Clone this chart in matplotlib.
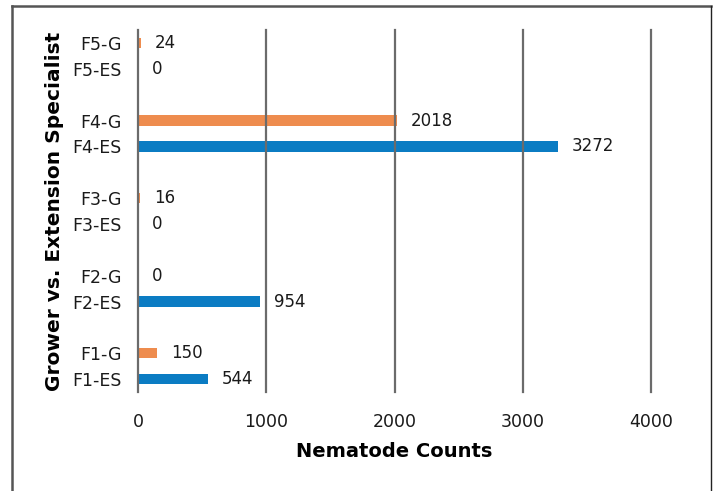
import matplotlib.pyplot as plt
from matplotlib.lines import Line2D

# Nematode counts per farm, extension specialist (ES) vs grower (G)
farms = ['F1', 'F2', 'F3', 'F4', 'F5']
es_counts = [544, 954, 0, 3272, 0]
g_counts = [150, 0, 16, 2018, 24]
x_ticks = [0, 1000, 2000, 3000, 4000]

orange = '#ee8c4e'
blue = '#0b7cc3'
grid_col = '#6b6b6b'

fig = plt.figure(figsize=(7.15, 4.91), dpi=100)
ax = fig.add_axes([0.193, 0.2016, 0.7175, 0.7373])

labels, values, colors, pos = [], [], [], []
for i, f in enumerate(farms):
    for j, (tag, vals, c) in enumerate([('ES', es_counts, blue), ('G', g_counts, orange)]):
        labels.append(f'{f}-{tag}')
        values.append(vals[i])
        colors.append(c)
        pos.append(3 * i + j)

ax.barh(pos, values, height=0.4, color=colors, zorder=1)
for p, v in zip(pos, values):
    ax.annotate(str(v), (v, p), xytext=(10, 0), textcoords='offset points',
                va='center', ha='left', fontsize=12, color='#1a1a1a')

# vertical gridlines, drawn over the bars and not clipped at the edges
for t in x_ticks:
    ax.axvline(t, color=grid_col, linewidth=1.6, zorder=2, clip_on=False)

ax.set_xlim(0, 4000)
ax.set_ylim(-0.5, 13.5)
ax.set_xticks(x_ticks)
ax.set_yticks(pos)
ax.set_yticklabels(labels)
ax.tick_params(axis='x', length=0, pad=15, labelsize=12.5, labelcolor='#1a1a1a')
ax.tick_params(axis='y', length=0, pad=12, labelsize=12.5, labelcolor='#1a1a1a')
for s in ax.spines.values():
    s.set_visible(False)

ax.set_xlabel('Nematode Counts', fontsize=14, fontweight='bold', labelpad=8)
ax.set_ylabel('Grower vs. Extension Specialist', fontsize=14.5, fontweight='bold', labelpad=6)

# frame around the figure (bottom edge falls outside the image)
W, H = 715, 491
fig.add_artist(Line2D([12 / W, 12 / W], [0, 1 - 6 / H], color='#555555', linewidth=1.8, transform=fig.transFigure))
fig.add_artist(Line2D([12 / W, 711 / W], [1 - 6 / H, 1 - 6 / H], color='#555555', linewidth=1.8, transform=fig.transFigure))
fig.add_artist(Line2D([711 / W, 711 / W], [0, 1 - 6 / H], color='#222222', linewidth=1.0, transform=fig.transFigure))

fig.savefig('out.png', dpi=100)
